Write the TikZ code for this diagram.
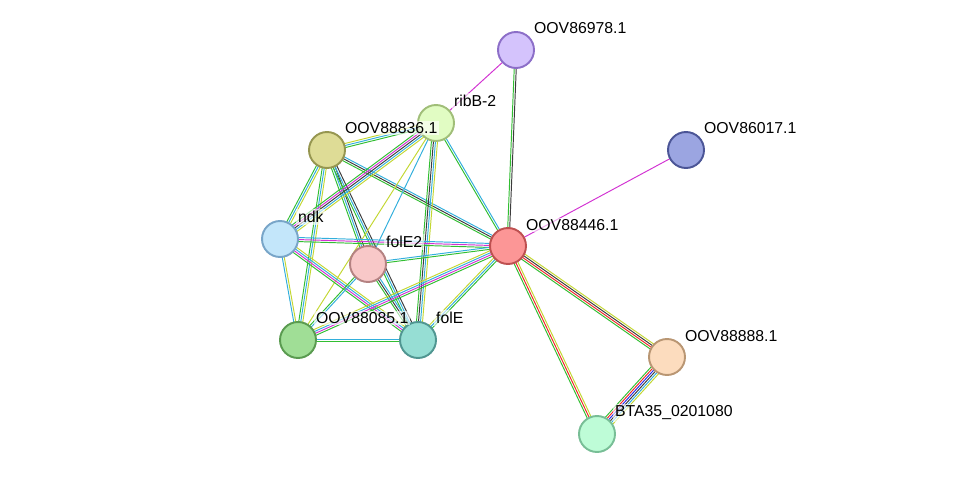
\documentclass[tikz,border=0pt]{standalone}
\usepackage{fontspec}
\setmainfont{Liberation Sans}
\usetikzlibrary{calc,backgrounds}
\definecolor{tgreen}{RGB}{50,190,50}
\definecolor{tyel}{RGB}{195,215,50}
\definecolor{tcyan}{RGB}{50,175,220}
\definecolor{tmag}{RGB}{210,50,210}
\definecolor{tblk}{RGB}{60,60,60}
\definecolor{tred}{RGB}{240,40,40}
\definecolor{tblue}{RGB}{40,40,235}
\tikzset{
  prot/.style={circle,minimum size=0.72cm,inner sep=0pt,line width=1.1pt},
  lbl/.style={anchor=west,font=\fontsize{9}{10}\selectfont,inner sep=1pt,fill=white,fill opacity=0.6,text opacity=1}
}
% edge with parallel coloured strands: from, to, count, colours
\newcommand\strands[4]{%
  \foreach \c [count=\i] in {#4} {%
    \pgfmathsetmacro\off{(\i-1-(#3-1)/2)*1.15}%
    \draw[\c,line width=0.55pt] ($(#1.center)!\off pt!90:(#2.center)$) -- ($(#2.center)!\off pt!-90:(#1.center)$);
  }}
\begin{document}
\begin{tikzpicture}[x=0.02cm,y=-0.02cm]
  \useasboundingbox (0,0) rectangle (975,480);
  % proteins
  \node[prot,draw={rgb,255:red,140;green,110;blue,200},fill={rgb,255:red,212;green,195;blue,252}] (p86978) at (516,50) {};
  \node[prot,draw={rgb,255:red,160;green,190;blue,120},fill={rgb,255:red,225;green,252;blue,195}] (ribB) at (436,123) {};
  \node[prot,draw={rgb,255:red,75;green,85;blue,150},fill={rgb,255:red,155;green,165;blue,225}] (p86017) at (686,150) {};
  \node[prot,draw={rgb,255:red,150;green,150;blue,80},fill={rgb,255:red,222;green,220;blue,150}] (p88836) at (327,150) {};
  \node[prot,draw={rgb,255:red,120;green,165;blue,200},fill={rgb,255:red,195;green,230;blue,250}] (ndk) at (280,239) {};
  \node[prot,draw={rgb,255:red,180;green,130;blue,130},fill={rgb,255:red,248;green,200;blue,200}] (folEb) at (368,264) {};
  \node[prot,draw={rgb,255:red,190;green,80;blue,80},fill={rgb,255:red,252;green,150;blue,150}] (p88446) at (508,246) {};
  \node[prot,draw={rgb,255:red,90;green,155;blue,80},fill={rgb,255:red,160;green,222;blue,150}] (p88085) at (298,340) {};
  \node[prot,draw={rgb,255:red,80;green,150;blue,145},fill={rgb,255:red,150;green,222;blue,212}] (folE) at (418,340) {};
  \node[prot,draw={rgb,255:red,185;green,150;blue,115},fill={rgb,255:red,252;green,220;blue,190}] (p88888) at (667,357) {};
  \node[prot,draw={rgb,255:red,120;green,190;blue,150},fill={rgb,255:red,190;green,252;blue,215}] (bta) at (597,434) {};
  % labels
  \node[lbl] at (532,28) {OOV86978.1};
  \node[lbl] at (452,101) {ribB-2};
  \node[lbl] at (702,128) {OOV86017.1};
  \node[lbl] at (343,128) {OOV88836.1};
  \node[lbl] at (296,217) {ndk};
  \node[lbl] at (384,242) {folE2};
  \node[lbl] at (524,225) {OOV88446.1};
  \node[lbl] at (314,318) {OOV88085.1};
  \node[lbl] at (434,318) {folE};
  \node[lbl] at (683,336) {OOV88888.1};
  \node[lbl] at (613,413) {BTA35\_0201080};
  \begin{scope}[on background layer]
    \strands{p86978}{ribB}{1}{tmag}
    \strands{p86978}{p88446}{2}{tgreen,tblk}
    \strands{p86017}{p88446}{1}{tmag}
    \strands{p88446}{p88888}{4}{tgreen,tred,tblk,tyel}
    \strands{p88446}{bta}{3}{tgreen,tred,tyel}
    \strands{p88888}{bta}{6}{tgreen,tred,tblue,tblk,tcyan,tyel}
    \strands{p88836}{ribB}{3}{tgreen,tcyan,tyel}
    \strands{p88836}{ndk}{3}{tgreen,tcyan,tyel}
    \strands{p88836}{folEb}{3}{tgreen,tcyan,tblk}
    \strands{p88836}{folE}{3}{tgreen,tcyan,tblk}
    \strands{p88836}{p88085}{3}{tgreen,tcyan,tyel}
    \strands{p88836}{p88446}{3}{tgreen,tblk,tcyan}
    \strands{ribB}{ndk}{5}{tgreen,tmag,tblk,tcyan,tyel}
    \strands{ribB}{folEb}{1}{tcyan}
    \strands{ribB}{folE}{4}{tgreen,tblk,tcyan,tyel}
    \strands{ribB}{p88446}{2}{tgreen,tcyan}
    \strands{ribB}{p88085}{1}{tyel}
    \strands{ndk}{p88446}{3}{tgreen,tmag,tcyan}
    \strands{ndk}{p88085}{2}{tcyan,tyel}
    \strands{ndk}{folE}{4}{tgreen,tmag,tcyan,tyel}
    \strands{folEb}{p88446}{2}{tgreen,tcyan}
    \strands{folEb}{p88085}{2}{tgreen,tcyan}
    \strands{folEb}{folE}{3}{tgreen,tblk,tcyan}
    \strands{p88085}{folE}{2}{tgreen,tcyan}
    \strands{p88085}{p88446}{4}{tgreen,tmag,tcyan,tyel}
    \strands{folE}{p88446}{3}{tgreen,tcyan,tyel}
  \end{scope}
\end{tikzpicture}
\end{document}
